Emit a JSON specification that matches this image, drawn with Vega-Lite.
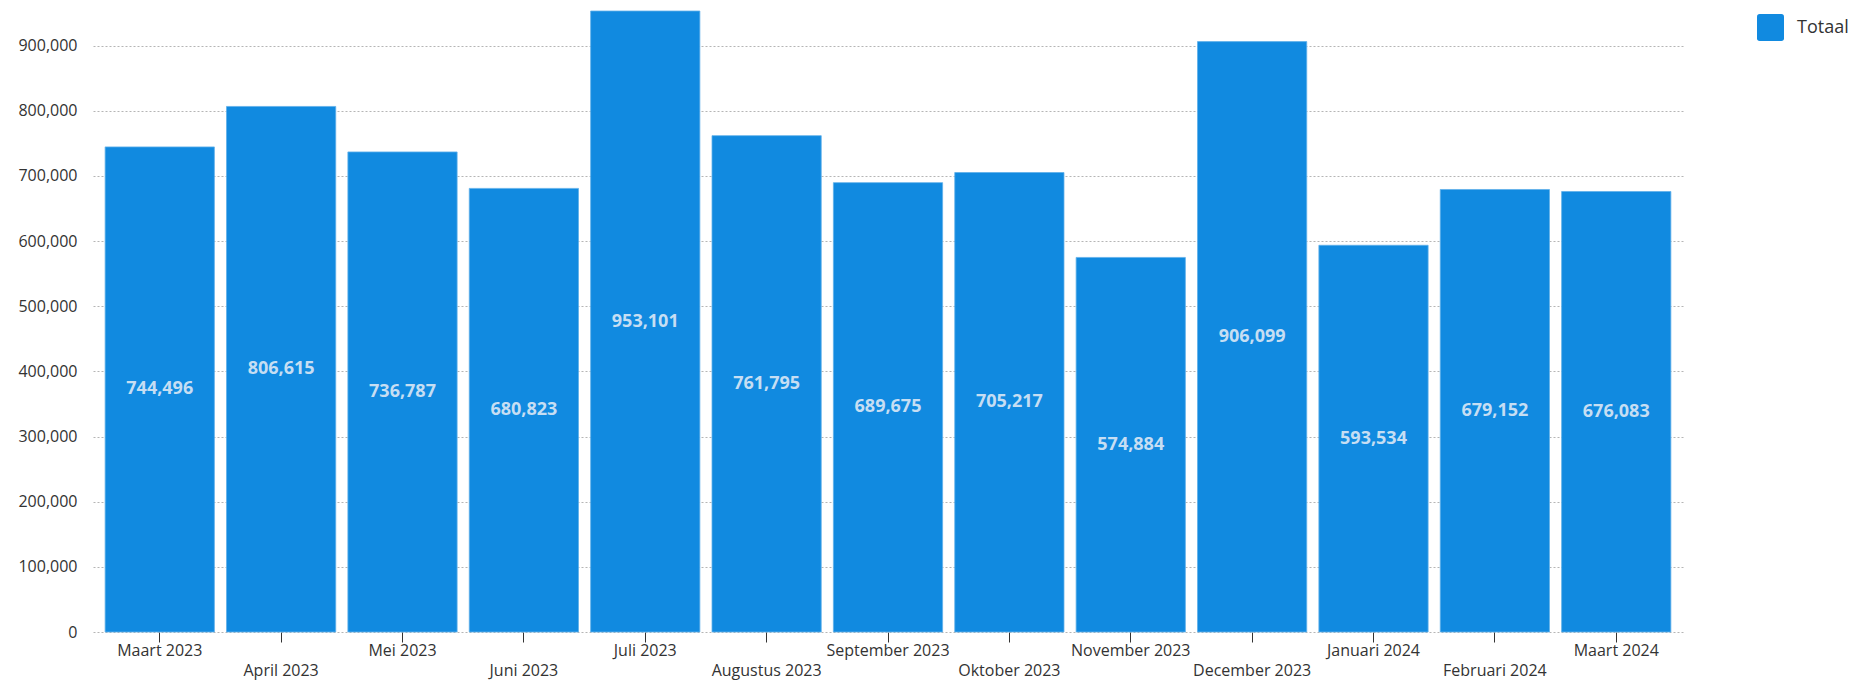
{
  "$schema": "https://vega.github.io/schema/vega-lite/v6.json",
  "width": 1590,
  "height": 621,
  "autosize": {"type": "none"},
  "padding": {"left": 93, "top": 11, "right": 173, "bottom": 50},
  "background": "white",
  "config": {
    "font": "Open Sans",
    "view": {"stroke": null}
  },
  "data": {
    "values": [
      {"Maand": "Maart 2023", "Totaal": 744496},
      {"Maand": "April 2023", "Totaal": 806615},
      {"Maand": "Mei 2023", "Totaal": 736787},
      {"Maand": "Juni 2023", "Totaal": 680823},
      {"Maand": "Juli 2023", "Totaal": 953101},
      {"Maand": "Augustus 2023", "Totaal": 761795},
      {"Maand": "September 2023", "Totaal": 689675},
      {"Maand": "Oktober 2023", "Totaal": 705217},
      {"Maand": "November 2023", "Totaal": 574884},
      {"Maand": "December 2023", "Totaal": 906099},
      {"Maand": "Januari 2024", "Totaal": 593534},
      {"Maand": "Februari 2024", "Totaal": 679152},
      {"Maand": "Maart 2024", "Totaal": 676083}
    ]
  },
  "encoding": {
    "x": {
      "field": "Maand",
      "type": "nominal",
      "sort": null,
      "scale": {"paddingInner": 0.1, "paddingOuter": 0.1},
      "axis": {
        "title": null,
        "labelAngle": 0,
        "labelFontSize": 16,
        "labelColor": "#333333",
        "labelLineHeight": 20,
        "labelPadding": 0,
        "labelOverlap": false,
        "labelExpr": "indexof(['April 2023','Juni 2023','Augustus 2023','Oktober 2023','December 2023','Februari 2024'], datum.value) >= 0 ? [' ', datum.value] : datum.value",
        "domain": false,
        "ticks": true,
        "tickSize": 10,
        "tickColor": "#333333",
        "grid": false
      }
    }
  },
  "layer": [
    {
      "mark": {"type": "bar", "stroke": "#5fb0ea", "strokeWidth": 0.8},
      "encoding": {
        "y": {
          "field": "Totaal",
          "type": "quantitative",
          "scale": {"domain": [0, 953101], "nice": false},
          "axis": {
            "title": null,
            "values": [0, 100000, 200000, 300000, 400000, 500000, 600000, 700000, 800000, 900000],
            "format": ",d",
            "labelFontSize": 16,
            "labelColor": "#333333",
            "labelPadding": 16,
            "domain": false,
            "ticks": false,
            "grid": true,
            "gridDash": [2, 2],
            "gridColor": "#b5b5b5",
            "gridWidth": 1
          }
        },
        "color": {
          "datum": "Totaal",
          "scale": {"range": ["#118ae0"]},
          "legend": {
            "title": null,
            "orient": "none",
            "legendX": 1664,
            "legendY": 3,
            "padding": 0,
            "symbolType": "M -1 -0.8 Q -1 -1 -0.8 -1 L 0.8 -1 Q 1 -1 1 -0.8 L 1 0.8 Q 1 1 0.8 1 L -0.8 1 Q -1 1 -1 0.8 Z",
            "symbolSize": 729,
            "symbolStrokeWidth": 0,
            "symbolOpacity": 1,
            "labelFontSize": 18,
            "labelColor": "#333333",
            "labelOffset": 13
          }
        }
      }
    },
    {
      "transform": [{"calculate": "datum.Totaal / 2", "as": "mid"}],
      "mark": {
        "type": "text",
        "fontSize": 18,
        "fontWeight": "bold",
        "color": "#c6def3",
        "baseline": "middle",
        "align": "center"
      },
      "encoding": {
        "y": {"field": "mid", "type": "quantitative"},
        "text": {"field": "Totaal", "type": "quantitative", "format": ",d"}
      }
    }
  ]
}
